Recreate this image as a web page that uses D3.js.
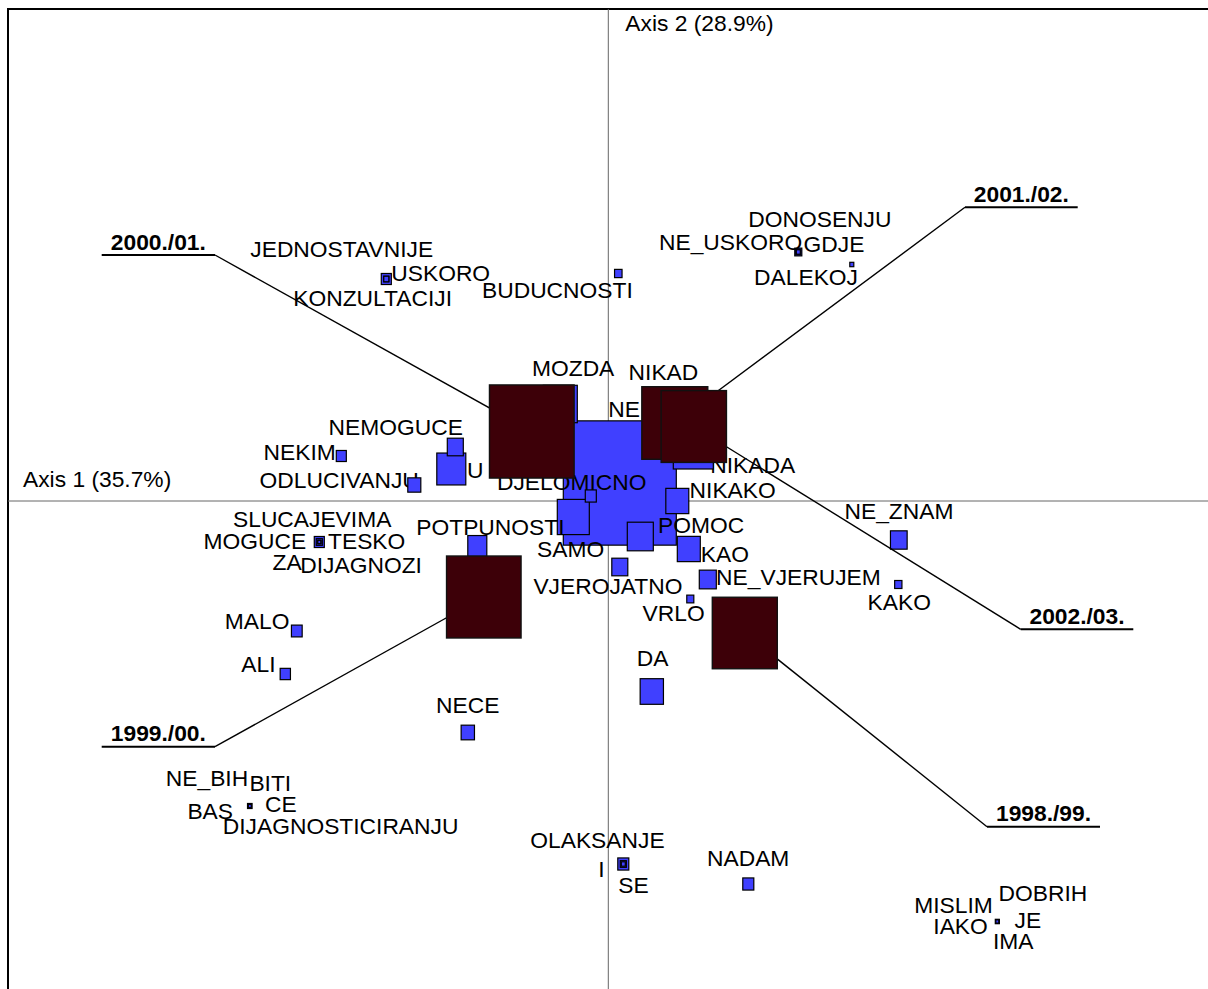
<!DOCTYPE html>
<html>
<head>
<meta charset="utf-8">
<script src="https://cdn.jsdelivr.net/npm/d3@7"></script>
<style>
  html, body { margin: 0; padding: 0; background: #fff; }
  svg { display: block; }
  text { font-family: "Liberation Sans", Arial, Helvetica, sans-serif; }
</style>
</head>
<body>
<svg id="chart" width="1208" height="989"></svg>
<script>
// ---------- DATA ----------
const axisTitles = ["Axis 1 (35.7%)", "Axis 2 (28.9%)"];

// Row points (words): coordinates on axis 1 / axis 2, and mass
const wordLabels = ["NE","NIKADA","MOZDA","SAMO","U","POMOC","NIKAD","DA","NIKAKO","KAO",
  "POTPUNOSTI","NE_VJERUJEM","NE_ZNAM","NEMOGUCE","VJEROJATNO","NECE","ODLUCIVANJU","DJELOMICNO","OLAKSANJE","NADAM",
  "MALO","ALI","NEKIM","JEDNOSTAVNIJE","SLUCAJEVIMA","BUDUCNOSTI","KAKO","VRLO","DONOSENJU","I",
  "MOGUCE","USKORO","KONZULTACIJI","NE_USKORO","NE_BIH","DALEKOJ","GDJE","SE","MISLIM","TESKO",
  "ZA","DIJAGNOZI","BITI","BAS","CE","DIJAGNOSTICIRANJU","IAKO","DOBRIH","JE","IMA"];
const wordAxis1 = [0.023,0.170,-0.096,-0.070,-0.314,0.064,0.114,0.087,0.138,0.161,
  -0.262,0.199,0.581,-0.306,0.023,-0.281,-0.388,-0.035,0.030,0.280,
  -0.623,-0.646,-0.534,-0.444,-0.578,0.020,0.580,0.164,0.380,0.030,
  -0.578,-0.444,-0.444,0.380,-0.717,0.487,0.380,0.030,0.778,-0.578,
  -0.578,-0.578,-0.717,-0.717,-0.717,-0.717,0.778,0.778,0.778,0.778];
const wordAxis2 = [0.036,0.108,0.194,-0.032,0.064,-0.071,0.182,-0.381,0.000,-0.096,
  -0.090,-0.157,-0.078,0.108,-0.132,-0.463,0.032,0.010,-0.726,-0.766,
  -0.260,-0.346,0.090,0.444,-0.082,0.455,-0.167,-0.196,0.498,-0.726,
  -0.082,0.444,0.444,0.498,-0.610,0.473,0.498,-0.726,-0.841,-0.082,
  -0.082,-0.082,-0.610,-0.610,-0.610,-0.610,-0.841,-0.841,-0.841,-0.841];
const wordMass = [798,100,72.3,64,52.6,42.3,36,33.9,33,33,
  22.6,18.1,17.4,16,16,11.1,10.6,7.6,7.6,7.6,
  7.2,6.6,6.3,6.3,6.3,3.5,3.3,3.1,3.1,2.3,
  2.3,1.6,1.6,1.6,1.3,1,1,1,1,0.56,
  0.56,0.56,0.56,0.56,0.56,0.56,0.56,0.56,0.56,0.56];

// Column points (years)
const yearLabels = ["1998./99.","1999./00.","2000./01.","2001./02.","2002./03."];
const yearAxis1 = [0.273,-0.249,-0.153,0.133,0.171];
const yearAxis2 = [-0.264,-0.192,0.139,0.156,0.149];
const yearMass  = [264,347,448,272,266.5];

// ---------- LAYOUT (label placement, pixels) ----------
const labelOffset = {
  NE:[-11.5,-65.7], NIKADA:[17,25.5], MOZDA:[-28.3,-28], SAMO:[-36.3,40], U:[15.7,9.3],
  POMOC:[17.7,-3.8], NIKAD:[-36.7,-30], DA:[-15,-25.7], NIKAKO:[12.3,-2.7], KAO:[12,12.7],
  POTPUNOSTI:[-61,-11], NE_VJERUJEM:[8.3,5.5], NE_ZNAM:[-54.3,-20.7], NEMOGUCE:[-126.7,-12],
  VJEROJATNO:[-86.4,27.3], NECE:[-31.7,-19.8], ODLUCIVANJU:[-154.7,3.3], DJELOMICNO:[-93.8,-6],
  OLAKSANJE:[-93,-16], NADAM:[-41.3,-18], MALO:[-72,-1.7], ALI:[-44,-1.7], NEKIM:[-77.7,4],
  JEDNOSTAVNIJE:[-136,-22], SLUCAJEVIMA:[-86.3,-14.7], BUDUCNOSTI:[-136.3,24.2], KAKO:[-30.7,25.5],
  VRLO:[-47.7,22], DONOSENJU:[-50,-25.5], I:[-25,13], MOGUCE:[-115.7,7], USKORO:[5,2],
  KONZULTACIJI:[-93,26.5], NE_USKORO:[-139.3,-2], NE_BIH:[-84,-20], DALEKOJ:[-97.7,20],
  GDJE:[5.3,0], SE:[-5,28.7], MISLIM:[-83,-8.2], TESKO:[8.7,7], ZA:[-46.7,28], DIJAGNOZI:[-19,31],
  BITI:[-0.4,-15], BAS:[-62.4,13.2], CE:[15.3,6], DIJAGNOSTICIRANJU:[-27,27.5], IAKO:[-64,12.5],
  DOBRIH:[1.3,-20.2], JE:[17.3,6.2], IMA:[-4.3,27.8]
};
// underline [x0, x1, y] for each year label; leader attaches at the end nearest the plot centre
const yearLabelBox = {
  "1998./99.":[987,1100,826.7],
  "1999./00.":[101.7,215,746.7],
  "2000./01.":[101.7,215,255],
  "2001./02.":[965,1077.7,207.3],
  "2002./03.":[1020.7,1133.3,629.3]
};

// ---------- DRAW ----------
const svg = d3.select("#chart");
const FONT = 22.8;
const x = d3.scaleLinear().domain([-1.2, 1.2]).range([8.3, 1208.3]);
const y = d3.scaleLinear().domain([-1, 1]).range([1001, 1]);
const side = d3.scaleSqrt().domain([0, 1]).range([0, 4]);
const ASPECT = 1.1;

const words = wordLabels.map((d, i) => ({label: d, a1: wordAxis1[i], a2: wordAxis2[i], mass: wordMass[i]}));
const years = yearLabels.map((d, i) => ({label: d, a1: yearAxis1[i], a2: yearAxis2[i], mass: yearMass[i]}));

// frame
svg.append("rect").attr("x", 8).attr("y", 9).attr("width", 1220).attr("height", 1000)
  .attr("fill", "none").attr("stroke", "#000").attr("stroke-width", 2);

// axes
svg.append("line").attr("x1", 8).attr("x2", 1208).attr("y1", y(0)).attr("y2", y(0))
  .attr("stroke", "#666").attr("stroke-width", 1);
svg.append("line").attr("x1", x(0)).attr("x2", x(0)).attr("y1", 9).attr("y2", 989)
  .attr("stroke", "#666").attr("stroke-width", 1);
svg.append("text").attr("x", 23).attr("y", 487).attr("font-size", FONT).text(axisTitles[0]);
svg.append("text").attr("x", 625.3).attr("y", 31).attr("font-size", FONT).text(axisTitles[1]);

// word points, largest first; each point draws its label, then its square
const sorted = words.slice().sort((a, b) => b.mass - a.mass);
const pts = svg.append("g").selectAll("g").data(sorted).join("g");
pts.append("text")
  .attr("x", d => x(d.a1) + labelOffset[d.label][0])
  .attr("y", d => y(d.a2) + labelOffset[d.label][1])
  .attr("font-size", FONT).attr("fill", "#000")
  .text(d => d.label);
pts.append("rect")
  .attr("x", d => x(d.a1) - side(d.mass) / 2)
  .attr("y", d => y(d.a2) - side(d.mass) * ASPECT / 2)
  .attr("width", d => side(d.mass))
  .attr("height", d => side(d.mass) * ASPECT)
  .attr("fill", "#4040ff").attr("stroke", "#000").attr("stroke-width", 1.2);

// year leader lines and underlines
const yg = svg.append("g");
years.forEach(d => {
  const b = yearLabelBox[d.label];
  const ax = (b[0] < x(0)) ? b[1] : b[0];
  yg.append("line").attr("x1", ax).attr("y1", b[2]).attr("x2", x(d.a1)).attr("y2", y(d.a2))
    .attr("stroke", "#000").attr("stroke-width", 1.4);
  yg.append("line").attr("x1", b[0]).attr("x2", b[1]).attr("y1", b[2]).attr("y2", b[2])
    .attr("stroke", "#000").attr("stroke-width", 2);
  yg.append("text").attr("x", (b[0] + b[1]) / 2).attr("y", b[2] - 5.5)
    .attr("text-anchor", "middle").attr("font-size", FONT).attr("font-weight", "bold")
    .text(d.label);
});

// year squares
svg.append("g").selectAll("rect").data(years).join("rect")
  .attr("x", d => x(d.a1) - side(d.mass) / 2)
  .attr("y", d => y(d.a2) - side(d.mass) * ASPECT / 2)
  .attr("width", d => side(d.mass))
  .attr("height", d => side(d.mass) * ASPECT)
  .attr("fill", "#3d0008").attr("stroke", "#111").attr("stroke-width", 1.4);
</script>
</body>
</html>
